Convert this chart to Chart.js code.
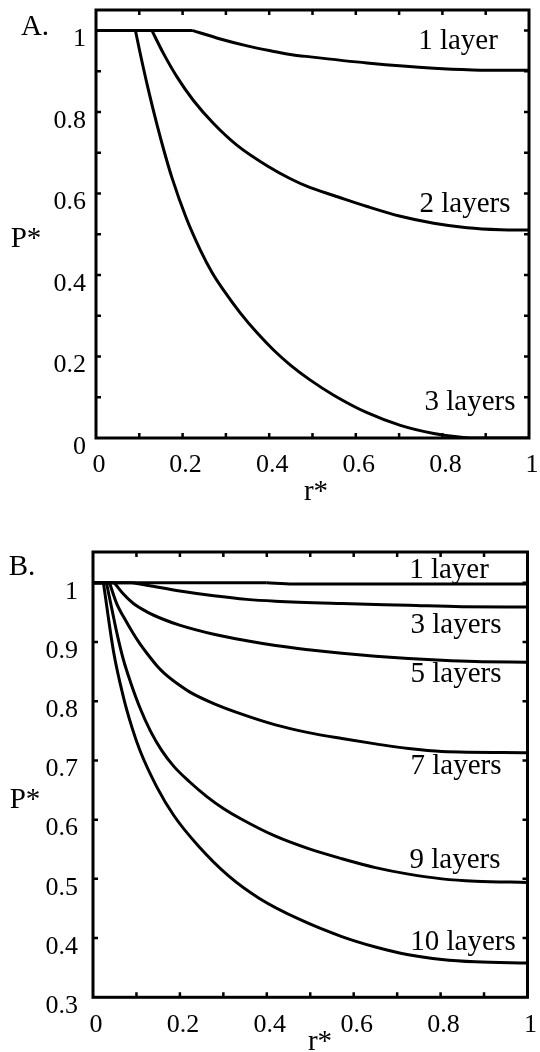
<!DOCTYPE html>
<html>
<head>
<meta charset="utf-8">
<script src="https://cdn.jsdelivr.net/npm/chart.js@4/dist/chart.umd.min.js"></script>
<style>
  html, body { margin: 0; padding: 0; background: #fff; }
  #wrap { position: relative; width: 540px; height: 1052px; overflow: hidden; background: #fff; }
  .box { position: absolute; left: 0; width: 540px; }
</style>
</head>
<body>
<div id="wrap">
  <div class="box" style="top:0;height:505px"><canvas id="cA"></canvas></div>
  <div class="box" style="top:505px;height:547px"><canvas id="cB"></canvas></div>
</div>
<script>
// ---------- Panel A data ----------
const aNames = ['1 layer', '2 layers', '3 layers'];
const a1R = [0, 0.222, 0.287, 0.349, 0.403, 0.449, 0.495, 0.626, 0.78, 0.87, 0.95, 1.0];
const a1P = [1, 1, 0.979, 0.962, 0.950, 0.941, 0.935, 0.920, 0.907, 0.903, 0.902, 0.902];
const a2R = [0, 0.129, 0.156, 0.187, 0.225, 0.272, 0.326, 0.395, 0.449, 0.495, 0.549, 0.626, 0.703, 0.78, 0.857, 0.934, 1.0];
const a2P = [1, 1, 0.943, 0.886, 0.828, 0.771, 0.718, 0.668, 0.636, 0.614, 0.595, 0.568, 0.544, 0.527, 0.516, 0.511, 0.510];
const a3R = [0, 0.091, 0.102, 0.121, 0.141, 0.158, 0.175, 0.208, 0.241, 0.268, 0.295, 0.333, 0.372, 0.410, 0.449, 0.495, 0.549, 0.626, 0.703, 0.78, 0.834, 0.87, 1.0];
const a3P = [1, 1, 0.944, 0.854, 0.768, 0.701, 0.640, 0.541, 0.461, 0.406, 0.362, 0.307, 0.258, 0.216, 0.179, 0.142, 0.105, 0.062, 0.031, 0.011, 0.003, 0, 0];
const aXTickLabels = [0, 0.2, 0.4, 0.6, 0.8, 1];
const aYTickLabels = [0, 0.2, 0.4, 0.6, 0.8, 1];

// ---------- Panel B data ----------
const bNames = ['1 layer', '3 layers', '5 layers', '7 layers', '9 layers', '10 layers'];
const b1R = [0, 0.4, 0.46, 1];
const b1P = [1, 1, 0.998, 0.998];
const b3R = [0, 0.09, 0.124, 0.2, 0.278, 0.354, 0.42, 0.573, 0.726, 0.849, 1];
const b3P = [1, 1, 0.996, 0.986, 0.978, 0.972, 0.969, 0.965, 0.962, 0.9595, 0.959];
const b5R = [0, 0.049, 0.07, 0.093, 0.124, 0.163, 0.201, 0.278, 0.354, 0.42, 0.496, 0.573, 0.65, 0.726, 0.803, 0.88, 1];
const b5P = [1, 1, 0.981, 0.965, 0.951, 0.938, 0.928, 0.913, 0.902, 0.894, 0.887, 0.881, 0.876, 0.872, 0.869, 0.867, 0.866];
const b7R = [0, 0.038, 0.055, 0.07, 0.093, 0.109, 0.124, 0.147, 0.163, 0.201, 0.224, 0.278, 0.339, 0.42, 0.496, 0.573, 0.65, 0.726, 0.803, 1];
const b7P = [1, 1, 0.964, 0.943, 0.914, 0.896, 0.881, 0.860, 0.848, 0.826, 0.815, 0.796, 0.779, 0.760, 0.747, 0.737, 0.728, 0.720, 0.715, 0.713];
const b9R = [0, 0.031, 0.045, 0.055, 0.07, 0.086, 0.108, 0.132, 0.158, 0.186, 0.222, 0.262, 0.3, 0.339, 0.42, 0.496, 0.573, 0.65, 0.726, 0.803, 0.88, 1];
const b9P = [1, 1, 0.950, 0.915, 0.870, 0.833, 0.789, 0.750, 0.717, 0.690, 0.664, 0.639, 0.619, 0.602, 0.572, 0.551, 0.534, 0.519, 0.508, 0.500, 0.496, 0.494];
const b10R = [0, 0.024, 0.047, 0.07, 0.09, 0.109, 0.147, 0.186, 0.242, 0.312, 0.383, 0.477, 0.571, 0.65, 0.726, 0.803, 0.88, 1];
const b10P = [1, 1, 0.885, 0.807, 0.755, 0.715, 0.655, 0.607, 0.556, 0.505, 0.467, 0.431, 0.403, 0.385, 0.372, 0.364, 0.360, 0.358];
const bXTickLabels = [0, 0.2, 0.4, 0.6, 0.8, 1];
const bYTickLabels = [0.3, 0.4, 0.5, 0.6, 0.7, 0.8, 0.9, 1];

// ---------- helpers ----------
const FONT = '"Liberation Serif", "Times New Roman", serif';
// one series -> flat leading part (straight) + curved remainder (monotone spline)
function series(name, rs, ps) {
  const pts = rs.map((r, i) => ({ x: r, y: ps[i] }));
  let k = 0;
  while (k + 1 < pts.length && pts[k + 1].y === pts[0].y) k++;
  const base = { label: name, borderColor: '#000', borderWidth: 3, pointRadius: 0, fill: false,
                 borderJoinStyle: 'round' };
  const out = [];
  if (k > 0) out.push(Object.assign({}, base, { data: pts.slice(0, k + 1), tension: 0 }));
  out.push(Object.assign({}, base, { data: pts.slice(k), cubicInterpolationMode: 'monotone' }));
  return out;
}
function labelFor(v, list) {
  const m = list.find(l => Math.abs(l - v) < 1e-6);
  return m === undefined ? '' : String(m);
}

const framePlugin = {
  id: 'frame',
  afterDatasetsDraw(chart, args, opts) {
    const { ctx, chartArea: a, scales } = chart;
    const xs = scales.x, ys = scales.y;
    ctx.save();
    ctx.strokeStyle = '#000';
    ctx.lineWidth = 2.5;
    const L = opts.tickLen || 5;
    ctx.beginPath();
    xs.ticks.forEach(t => {
      const px = xs.getPixelForValue(t.value);
      if (px <= a.left + 2 || px >= a.right - 2) return;
      ctx.moveTo(px, a.bottom); ctx.lineTo(px, a.bottom - L);
      ctx.moveTo(px, a.top); ctx.lineTo(px, a.top + L);
    });
    ys.ticks.forEach(t => {
      const py = ys.getPixelForValue(t.value);
      if (py <= a.top + 2 || py >= a.bottom - 2) return;
      ctx.moveTo(a.left, py); ctx.lineTo(a.left + L, py);
      ctx.moveTo(a.right, py); ctx.lineTo(a.right - L, py);
    });
    ctx.stroke();
    ctx.lineWidth = 3;
    ctx.strokeRect(a.left, a.top, a.right - a.left, a.bottom - a.top);
    ctx.fillStyle = '#000';
    ctx.textBaseline = 'alphabetic';
    (opts.texts || []).forEach(t => {
      ctx.font = t.size + 'px ' + FONT;
      ctx.textAlign = t.align || 'center';
      ctx.fillText(t.text, t.x, t.y);
    });
    ctx.restore();
  }
};

function makeChart(id, datasets, cfg) {
  return new Chart(document.getElementById(id), {
    type: 'line',
    data: { datasets },
    plugins: [framePlugin],
    options: {
      responsive: true,
      maintainAspectRatio: false,
      animation: false,
      events: [],
      layout: { padding: { top: cfg.top, right: cfg.right, left: 0, bottom: 0 } },
      plugins: {
        legend: { display: false },
        tooltip: { enabled: false },
        frame: { tickLen: 5, texts: cfg.texts }
      },
      scales: {
        x: {
          type: 'linear', min: 0, max: 1,
          grid: { display: false, drawTicks: false }, border: { display: false },
          ticks: {
            stepSize: 0.1, autoSkip: false, maxRotation: 0, minRotation: 0, includeBounds: false,
            padding: cfg.xPad, labelOffset: cfg.xOff, color: '#000',
            font: { family: FONT, size: 26 },
            callback: v => labelFor(v, cfg.xLabels)
          },
          afterFit: s => { s.height = cfg.xH; s.paddingLeft = 0; s.paddingRight = 0; }
        },
        y: {
          type: 'linear', min: cfg.yMin, max: cfg.yMax,
          grid: { display: false, drawTicks: false }, border: { display: false },
          ticks: {
            stepSize: 0.1, autoSkip: false, includeBounds: false,
            padding: cfg.yPad, labelOffset: cfg.yOff, color: '#000',
            font: { family: FONT, size: 26 },
            callback: v => labelFor(v, cfg.yLabels)
          },
          afterFit: s => { s.width = cfg.yW; s.paddingTop = 0; s.paddingBottom = 0; }
        }
      }
    }
  });
}

makeChart('cA', [
  ...series(aNames[0], a1R, a1P),
  ...series(aNames[1], a2R, a2P),
  ...series(aNames[2], a3R, a3P)
], {
  top: 10, right: 11, xH: 67, yW: 96, yMin: 0, yMax: 1.05,
  xPad: 12, xOff: 3, yPad: 10, yOff: 9,
  xLabels: aXTickLabels, yLabels: aYTickLabels,
  texts: [
    { text: 'A.', x: 35, y: 35, size: 29 },
    { text: 'P*', x: 26, y: 247, size: 29 },
    { text: 'r*', x: 316, y: 500, size: 29 },
    { text: aNames[0], x: 458, y: 49, size: 29 },
    { text: aNames[1], x: 465, y: 212, size: 29 },
    { text: aNames[2], x: 470, y: 410, size: 29 }
  ]
});

makeChart('cB', [
  ...series(bNames[0], b1R, b1P),
  ...series(bNames[1], b3R, b3P),
  ...series(bNames[2], b5R, b5P),
  ...series(bNames[3], b7R, b7P),
  ...series(bNames[4], b9R, b9P),
  ...series(bNames[5], b10R, b10P)
], {
  top: 47, right: 12.5, xH: 54.7, yW: 93, yMin: 0.3, yMax: 1.052,
  xPad: 12, xOff: 3, yPad: 15, yOff: 9,
  xLabels: bXTickLabels, yLabels: bYTickLabels,
  texts: [
    { text: 'B.', x: 22, y: 70, size: 29 },
    { text: 'P*', x: 25, y: 303, size: 29 },
    { text: 'r*', x: 320, y: 545, size: 29 },
    { text: bNames[0], x: 449, y: 73, size: 29 },
    { text: bNames[1], x: 456, y: 128, size: 29 },
    { text: bNames[2], x: 456, y: 177, size: 29 },
    { text: bNames[3], x: 456, y: 269, size: 29 },
    { text: bNames[4], x: 455, y: 363, size: 29 },
    { text: bNames[5], x: 463, y: 445, size: 29 }
  ]
});
</script>
</body>
</html>
